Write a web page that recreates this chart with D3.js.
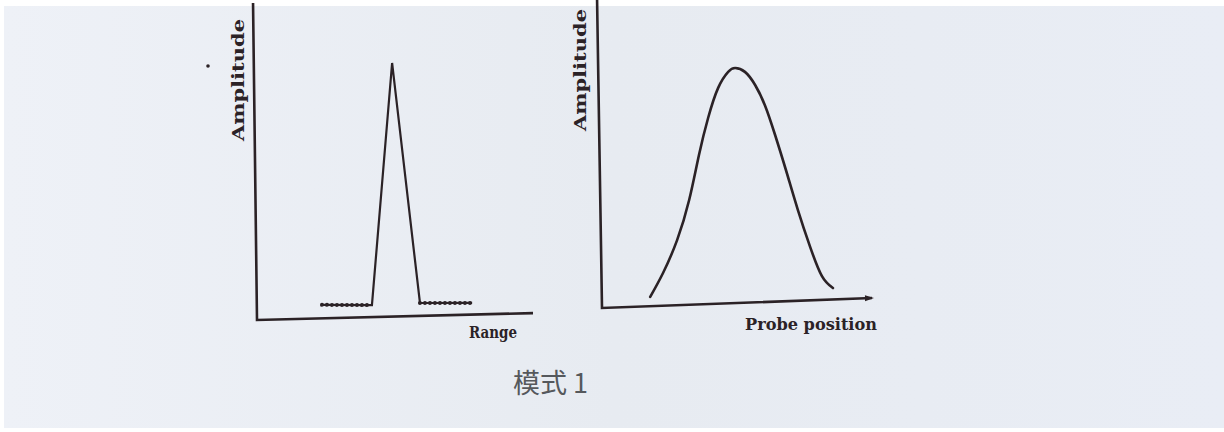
<!DOCTYPE html>
<html>
<head>
<meta charset="utf-8">
<script src="https://cdn.jsdelivr.net/npm/d3@7"></script>
<style>
  body { margin: 0; background: #ffffff; }
  svg { display: block; }
</style>
</head>
<body>
<div id="chart"></div>
<script>
// left panel: echo amplitude against range (peak on a rippled baseline)
var rangeX = [23.6, 41.7, 50.1, 59.1, 78.0];
var rangeAmp = [4.3, 3.8, 80.5, 4.1, 3.7];

// right panel: echo amplitude against probe position
var probeX = [17.9, 22.8, 28.2, 32.9, 36.8, 40.4, 44.3, 48.1, 50.7, 54.3, 58.0, 61.6, 65.1, 68.9, 73.1, 77.4, 81.6, 85.6];
var probeAmp = [3.1, 10.9, 21.7, 34.9, 49.8, 62.0, 71.9, 77.1, 78.3, 76.9, 72.4, 65.3, 55.5, 43.7, 30.2, 17.8, 7.9, 3.8];

var yLabel = "Amplitude";
var xLabels = ["Range", "Probe position"];
var caption = "模式 1";

var W = 1224, H = 432;
var ink = "#2b2226";

var svg = d3.select("#chart").append("svg")
    .attr("width", W)
    .attr("height", H);

// scanned paper
var defs = svg.append("defs");
var grad = defs.append("linearGradient").attr("id", "paper").attr("x1", 0).attr("x2", 1);
grad.append("stop").attr("offset", 0).attr("stop-color", "#eef1f7");
grad.append("stop").attr("offset", 0.5).attr("stop-color", "#e7ebf1");
grad.append("stop").attr("offset", 1).attr("stop-color", "#e9edf5");

svg.append("rect").attr("width", W).attr("height", H).attr("fill", "#ffffff");
svg.append("rect")
    .attr("x", 4).attr("y", 6)
    .attr("width", W - 4).attr("height", H - 10)
    .attr("fill", "url(#paper)");

// one panel = hand drawn axes, slightly sheared like the scan
function panel(opt) {
    var x = d3.scaleLinear().domain([0, 100]).range([0, opt.w]);
    var y = d3.scaleLinear().domain([0, 100]).range([0, -opt.h]);

    var g = svg.append("g")
        .attr("transform", "matrix(1," + opt.skewY + "," + opt.skewX + ",1," + opt.left + "," + opt.top + ")");

    g.append("path")
        .attr("d", "M" + x(0) + "," + (y(100) - opt.extra) + "L" + x(0) + "," + y(0) + "L" + x(100) + "," + y(0))
        .attr("fill", "none")
        .attr("stroke", ink)
        .attr("stroke-width", 2.6)
        .attr("stroke-linejoin", "miter");

    return { g: g, x: x, y: y };
}

// left: range trace
var p1 = panel({ left: 257, top: 320, w: 276, h: 315, extra: 2, skewY: -0.025, skewX: 0.0125 });
var pts1 = rangeX.map(function(d, i) { return [d, rangeAmp[i]]; });
var line1 = d3.line()
    .x(function(d) { return p1.x(d[0]); })
    .y(function(d) { return p1.y(d[1]); });

p1.g.append("path")
    .datum(pts1)
    .attr("d", line1)
    .attr("fill", "none")
    .attr("stroke", ink)
    .attr("stroke-width", 2.2)
    .attr("stroke-linejoin", "miter");

// rippled baselines either side of the peak
[[pts1[0], pts1[1]], [pts1[3], pts1[4]]].forEach(function(seg) {
    p1.g.append("path")
        .datum(seg)
        .attr("d", line1)
        .attr("fill", "none")
        .attr("stroke", ink)
        .attr("stroke-width", 4)
        .attr("stroke-linecap", "round")
        .attr("stroke-dasharray", "0,5");
});

// right: probe position trace
var p2 = panel({ left: 602, top: 308, w: 270, h: 300, extra: 8, skewY: -0.037, skewX: 0.016 });
var pts2 = probeX.map(function(d, i) { return [d, probeAmp[i]]; });

p2.g.append("path")
    .datum(pts2)
    .attr("d", d3.line()
        .curve(d3.curveNatural)
        .x(function(d) { return p2.x(d[0]); })
        .y(function(d) { return p2.y(d[1]); }))
    .attr("fill", "none")
    .attr("stroke", ink)
    .attr("stroke-width", 2.6)
    .attr("stroke-linecap", "round");

// small arrow tip on the probe axis
p2.g.append("path")
    .attr("d", "M" + (p2.x(100) - 7) + "," + (p2.y(0) - 3) + "L" + (p2.x(100) + 2) + "," + p2.y(0) + "L" + (p2.x(100) - 7) + "," + (p2.y(0) + 3) + "Z")
    .attr("fill", ink);

// axis titles
var labelFont = "'DejaVu Serif', 'Liberation Serif', serif";

[[238, 80], [580, 70]].forEach(function(pos) {
    svg.append("text")
        .attr("transform", "translate(" + pos[0] + "," + pos[1] + ") rotate(-90)")
        .attr("text-anchor", "middle")
        .attr("dy", "0.35em")
        .attr("font-family", labelFont)
        .attr("font-weight", "bold")
        .attr("font-size", 17)
        .attr("textLength", 122)
        .attr("lengthAdjust", "spacingAndGlyphs")
        .attr("fill", ink)
        .text(yLabel);
});

svg.append("text")
    .attr("x", 469).attr("y", 338)
    .attr("font-family", labelFont)
    .attr("font-weight", "bold")
    .attr("font-size", 17)
    .attr("textLength", 48)
    .attr("lengthAdjust", "spacingAndGlyphs")
    .attr("fill", ink)
    .text(xLabels[0]);

svg.append("text")
    .attr("x", 745).attr("y", 330)
    .attr("font-family", labelFont)
    .attr("font-weight", "bold")
    .attr("font-size", 17)
    .attr("textLength", 132)
    .attr("lengthAdjust", "spacingAndGlyphs")
    .attr("fill", ink)
    .text(xLabels[1]);

// caption under both panels
svg.append("text")
    .attr("x", 513).attr("y", 393)
    .attr("font-family", "'Noto Sans CJK SC', sans-serif")
    .attr("font-size", 27)
    .attr("fill", "#55585c")
    .text(caption);

// specks from the scan
svg.append("circle").attr("cx", 208).attr("cy", 66).attr("r", 1.8).attr("fill", ink);
</script>
</body>
</html>
